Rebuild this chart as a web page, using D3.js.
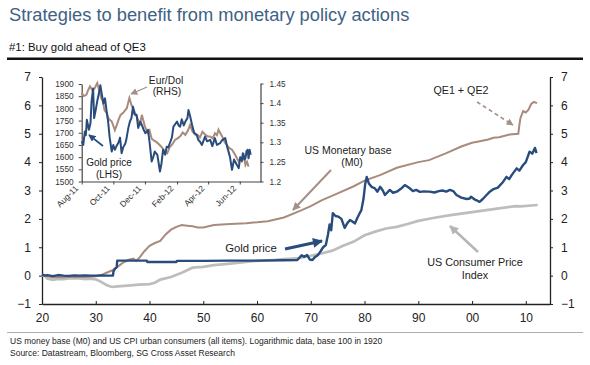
<!DOCTYPE html>
<html><head><meta charset="utf-8">
<script src="https://cdn.jsdelivr.net/npm/d3@7"></script>
<style>
body{margin:0;background:#fff;}
svg{display:block;font-family:Arial,"Liberation Sans",Helvetica,sans-serif;}
</style>
</head><body>
<svg id="c" width="590" height="365"></svg>
<script>
// ---------- DATA ----------
// Main chart: natural log, base 1920 = 0
const goldYears = [1920,1920.5,1921,1922,1923,1924,1925,1926,1927,1928,1929,1930,1931,1932,1933.2,1933.3,1933.6,1933.9,1934.0,1939.5,1939.6,1945,1945.1,1950,1955,1960,1965,1967.5,1968.3,1968.8,1969.3,1969.8,1970.3,1970.8,1971.3,1971.8,1972.3,1972.8,1973.2,1973.5,1973.8,1974.1,1974.6,1975.1,1975.7,1976.3,1976.8,1977.3,1977.8,1978.2,1978.7,1979.1,1979.4,1979.8,1980.1,1980.4,1980.8,1981.3,1981.9,1982.4,1982.9,1983.4,1983.8,1984.7,1985.3,1986,1986.7,1987.5,1988.4,1989,1989.6,1990.3,1991,1992.1,1993,1993.8,1994.5,1995.2,1995.9,1996.5,1997.1,1998,1999,1999.6,1999.8,2000.5,2001,2001.4,2002,2002.7,2003.3,2004,2004.8,2005.8,2006.4,2006.9,2007.4,2008.3,2008.8,2009.5,2010,2010.7,2011.2,2011.7,2012.0];
const goldVals  = [0.05,0.0,0.02,-0.02,0.02,0.0,-0.01,0.01,0.0,0.01,0.0,0.0,0.01,0.0,0.0,0.15,0.25,0.3,0.53,0.53,0.48,0.48,0.52,0.52,0.53,0.53,0.54,0.55,0.72,0.66,0.73,0.57,0.55,0.66,0.72,0.85,1.0,1.08,1.45,1.8,1.6,2.2,2.1,2.08,2.0,1.68,1.85,1.96,1.9,1.84,2.05,2.2,2.3,2.7,3.2,3.48,3.25,3.13,3.08,2.96,3.13,3.0,2.84,3.02,2.92,2.96,3.05,3.19,3.08,2.98,3.02,2.95,2.97,2.96,2.93,2.98,3.0,2.96,3.02,2.98,2.84,2.75,2.7,2.72,2.78,2.68,2.64,2.6,2.7,2.84,2.96,3.05,3.1,3.31,3.48,3.4,3.55,3.78,3.7,3.9,4.0,4.37,4.3,4.5,4.32];

const m0Years = [1920,1921,1922,1923,1924,1925,1926,1927,1928,1929,1930,1931,1932,1933,1934,1935,1936,1937,1937.5,1938,1939,1940,1941,1942,1943,1944,1945,1946,1947,1948,1949,1950,1952,1955,1958,1960,1962,1965,1968,1970,1972,1975,1978,1980,1983,1986,1990,1992,1995,1998,2000,2001,2003,2004,2005,2007,2008.6,2008.8,2009.0,2009.5,2010,2010.5,2011,2011.5,2012.1];
const m0Vals  = [0.02,-0.02,-0.06,-0.05,-0.06,-0.04,-0.05,-0.04,-0.05,-0.04,-0.02,0.02,0.1,0.18,0.3,0.45,0.55,0.6,0.52,0.6,0.85,1.05,1.15,1.22,1.45,1.62,1.72,1.78,1.76,1.74,1.7,1.7,1.78,1.82,1.85,1.88,1.92,2.05,2.28,2.45,2.65,2.9,3.15,3.35,3.55,3.8,4.0,4.07,4.3,4.55,4.68,4.72,4.8,4.86,4.88,4.97,5.0,5.3,5.55,5.8,5.75,5.85,6.05,6.12,6.08];

const cpiYears = [1920,1920.5,1921,1922,1923,1924,1925,1926,1927,1928,1929,1930,1931,1932,1933,1934,1936,1938,1940,1941,1942,1944,1946,1948,1950,1952,1955,1958,1960,1963,1965,1968,1970,1972,1974,1976,1978,1980,1982,1984,1986,1988,1990,1993,1996,1999,2002,2005,2008,2009,2012.2];
const cpiVals  = [0.02,0.0,-0.1,-0.15,-0.12,-0.12,-0.1,-0.09,-0.1,-0.12,-0.11,-0.13,-0.22,-0.33,-0.4,-0.38,-0.35,-0.32,-0.3,-0.25,-0.14,-0.05,0.1,0.28,0.31,0.37,0.42,0.48,0.52,0.55,0.58,0.62,0.7,0.78,0.88,1.05,1.2,1.42,1.55,1.66,1.72,1.82,1.93,2.04,2.13,2.21,2.29,2.37,2.45,2.44,2.49];

const xTicks = [1920,1930,1940,1950,1960,1970,1980,1990,2000,2010];
const yTicks = [-1,0,1,2,3,4,5,6,7];

// Inset: gold price (LHS, USD/oz) and EUR/USD (RHS)
const insetGoldDates = ["2011-08-01","2011-08-04","2011-08-07","2011-08-09","2011-08-11","2011-08-15","2011-08-18","2011-08-20","2011-08-23","2011-08-25","2011-08-28","2011-08-31","2011-09-04","2011-09-06","2011-09-08","2011-09-12","2011-09-15","2011-09-18","2011-09-21","2011-09-24","2011-09-28","2011-10-01","2011-10-04","2011-10-07","2011-10-11","2011-10-14","2011-10-17","2011-10-20","2011-10-24","2011-10-26","2011-10-30","2011-11-02","2011-11-05","2011-11-08","2011-11-11","2011-11-15","2011-11-18","2011-11-22","2011-11-25","2011-11-29","2011-12-02","2011-12-07","2011-12-10","2011-12-14","2011-12-17","2011-12-20","2011-12-25","2011-12-30","2012-01-02","2012-01-05","2012-01-09","2012-01-12","2012-01-15","2012-01-18","2012-01-22","2012-01-25","2012-02-01","2012-02-04","2012-02-07","2012-02-10","2012-02-14","2012-02-17","2012-02-21","2012-02-23","2012-02-26","2012-03-01","2012-03-05","2012-03-10","2012-03-13","2012-03-16","2012-03-20","2012-03-26","2012-03-30","2012-04-05","2012-04-09","2012-04-14","2012-04-18","2012-04-24","2012-04-28","2012-05-04","2012-05-08","2012-05-13","2012-05-17","2012-05-21","2012-05-26","2012-05-30","2012-06-02","2012-06-05","2012-06-07","2012-06-10","2012-06-12","2012-06-14","2012-06-16","2012-06-18","2012-06-20","2012-06-22"];
const insetGoldVals = [1665,1650,1705,1690,1753,1712,1740,1828,1882,1760,1793,1830,1870,1895,1868,1820,1841,1790,1746,1680,1623,1650,1630,1645,1660,1680,1616,1640,1655,1671,1720,1746,1760,1807,1775,1773,1720,1745,1732,1710,1698,1712,1660,1582,1600,1623,1609,1541,1575,1630,1610,1643,1640,1657,1680,1725,1746,1730,1725,1755,1730,1746,1760,1793,1770,1732,1700,1691,1670,1664,1650,1684,1665,1671,1645,1678,1650,1657,1670,1678,1640,1602,1548,1590,1570,1555,1600,1585,1616,1590,1596,1625,1630,1595,1630,1610];

const insetEurDates = ["2011-08-01","2011-08-05","2011-08-10","2011-08-13","2011-08-17","2011-08-22","2011-08-26","2011-08-31","2011-09-05","2011-09-08","2011-09-11","2011-09-14","2011-09-18","2011-09-22","2011-09-28","2011-10-04","2011-10-08","2011-10-11","2011-10-15","2011-10-20","2011-10-24","2011-10-27","2011-11-01","2011-11-05","2011-11-08","2011-11-12","2011-11-18","2011-11-22","2011-11-25","2011-12-01","2011-12-07","2011-12-10","2011-12-14","2011-12-18","2011-12-23","2011-12-28","2012-01-02","2012-01-09","2012-01-13","2012-01-18","2012-01-23","2012-01-28","2012-02-02","2012-02-07","2012-02-12","2012-02-17","2012-02-22","2012-02-26","2012-03-02","2012-03-07","2012-03-12","2012-03-16","2012-03-21","2012-03-26","2012-03-31","2012-04-05","2012-04-10","2012-04-14","2012-04-18","2012-04-21","2012-04-25","2012-04-28","2012-05-03","2012-05-07","2012-05-12","2012-05-17","2012-05-23","2012-05-30","2012-06-02","2012-06-05","2012-06-09","2012-06-12","2012-06-15","2012-06-18"];
const insetEurVals = [1.426,1.418,1.421,1.432,1.443,1.432,1.438,1.451,1.426,1.412,1.404,1.382,1.375,1.36,1.353,1.331,1.345,1.357,1.37,1.375,1.382,1.387,1.413,1.395,1.387,1.375,1.357,1.348,1.370,1.340,1.323,1.33,1.309,1.305,1.301,1.295,1.288,1.276,1.272,1.288,1.295,1.306,1.31,1.315,1.325,1.319,1.33,1.344,1.327,1.32,1.319,1.312,1.327,1.32,1.315,1.315,1.31,1.323,1.318,1.332,1.322,1.315,1.3,1.293,1.285,1.281,1.268,1.251,1.259,1.252,1.265,1.242,1.25,1.238];

const insetMonthTicks = ["2011-08-01","2011-10-01","2011-12-01","2012-02-01","2012-04-01","2012-06-01"];
const insetMonthLabels = ["Aug-11","Oct-11","Dec-11","Feb-12","Apr-12","Jun-12"];
const insetGoldTicks = [1500,1550,1600,1650,1700,1750,1800,1850,1900];
const insetEurTicks = [1.2,1.25,1.3,1.35,1.4,1.45];

// ---------- STYLE ----------
const BLUE = "#284c7c", BROWN = "#a88b7d", GREY = "#bdbdbd";
const FONT = "Arial,Liberation Sans,sans-serif";
const svg = d3.select("#c");

const defs = svg.append("defs");
function marker(id, color, w, h) {
  defs.append("marker").attr("id", id).attr("viewBox", "0 0 10 10")
    .attr("refX", 9).attr("refY", 5).attr("markerWidth", w).attr("markerHeight", h)
    .attr("markerUnits", "userSpaceOnUse").attr("orient", "auto")
    .append("path").attr("d", "M0,0 L10,5 L0,10 z").attr("fill", color);
}
marker("mBrown", "#a39086", 9, 8);
marker("mBlue", BLUE, 11, 10);
marker("mGrey", "#b5b5b5", 10, 9);
marker("mBlueS", BLUE, 7, 7);
marker("mBrownS", "#a39086", 7, 7);

// ---------- HEADER ----------
svg.append("text").attr("x", 9).attr("y", 20.5).attr("font-size", 18.3).attr("fill", "#3e6283")
  .text("Strategies to benefit from monetary policy actions");
svg.append("text").attr("x", 9).attr("y", 51).attr("font-size", 11.4).attr("fill", "#111")
  .text("#1: Buy gold ahead of QE3");
svg.append("line").attr("x1", 7).attr("x2", 583).attr("y1", 58.7).attr("y2", 58.7)
  .attr("stroke", "#111").attr("stroke-width", 2.4);

// ---------- MAIN CHART ----------
const x = d3.scaleLinear().domain([1920, 2014.5]).range([42, 550]);
const y = d3.scaleLinear().domain([-1, 7]).range([304, 77]);

const axL = svg.append("g").attr("transform", "translate(42,0)")
  .call(d3.axisLeft(y).tickValues(yTicks).tickSizeInner(3).tickSizeOuter(0).tickPadding(8).tickFormat(d3.format("d")));
const axR = svg.append("g").attr("transform", "translate(550,0)")
  .call(d3.axisRight(y).tickValues(yTicks).tickSizeInner(3).tickSizeOuter(0).tickPadding(8).tickFormat(d3.format("d")));
const axB = svg.append("g").attr("transform", "translate(0,304)")
  .call(d3.axisBottom(x).tickValues(xTicks).tickSizeInner(-3).tickSizeOuter(0).tickPadding(9)
    .tickFormat(d => String(d % 100).padStart(2, "0")));
[axL, axR, axB].forEach(g => {
  g.selectAll("path").attr("stroke", "#222").attr("stroke-width", 1.3);
  g.selectAll("line").attr("stroke", "#222");
  g.selectAll("text").attr("font-size", 12).attr("fill", "#222").attr("font-family", FONT);
});

const line = d3.line().x(d => x(d[0])).y(d => y(d[1]));
svg.append("path").datum(cpiYears.map((d, i) => [d, cpiVals[i]])).attr("d", line)
  .attr("fill", "none").attr("stroke", GREY).attr("stroke-width", 2.7);
svg.append("path").datum(m0Years.map((d, i) => [d, m0Vals[i]])).attr("d", line)
  .attr("fill", "none").attr("stroke", BROWN).attr("stroke-width", 2);
svg.append("path").datum(goldYears.map((d, i) => [d, goldVals[i]])).attr("d", line)
  .attr("fill", "none").attr("stroke", BLUE).attr("stroke-width", 2.4).attr("stroke-linejoin", "round");

const ann = (t, cx, by, fs) => svg.append("text").attr("x", cx).attr("y", by).attr("text-anchor", "middle")
  .attr("font-size", fs).attr("fill", "#222").text(t);
ann("US Monetary base", 348, 154, 10.5);
ann("(M0)", 352, 166, 10.5);
ann("QE1 + QE2", 461, 94, 10.7);
ann("Gold price", 251, 252, 11.3);
ann("US Consumer Price", 475, 266, 10.8);
ann("Index", 475, 279, 10.8);

svg.append("line").attr("x1", 331).attr("y1", 170).attr("x2", 293).attr("y2", 210)
  .attr("stroke", "#a39086").attr("stroke-width", 2).attr("marker-end", "url(#mBrown)");
svg.append("line").attr("x1", 477).attr("y1", 102).attr("x2", 513).attr("y2", 125)
  .attr("stroke", "#a39086").attr("stroke-width", 1.6).attr("stroke-dasharray", "4,3").attr("marker-end", "url(#mBrownS)");
svg.append("line").attr("x1", 285).attr("y1", 249).attr("x2", 322).attr("y2", 241)
  .attr("stroke", BLUE).attr("stroke-width", 3).attr("marker-end", "url(#mBlue)");
svg.append("line").attr("x1", 478).attr("y1", 252).attr("x2", 450).attr("y2", 226)
  .attr("stroke", "#b5b5b5").attr("stroke-width", 2.5).attr("marker-end", "url(#mGrey)");

// ---------- INSET ----------
const parse = d3.timeParse("%Y-%m-%d");
const ix = d3.scaleTime().domain([parse("2011-08-01"), parse("2012-07-11")]).range([81.7, 260.5]);
const iyL = d3.scaleLinear().domain([1500, 1900]).range([181.5, 84]);
const iyR = d3.scaleLinear().domain([1.2, 1.45]).range([181.5, 83.5]);

const iL = svg.append("g").attr("transform", "translate(81.7,0)")
  .call(d3.axisLeft(iyL).tickValues(insetGoldTicks).tickSizeInner(3).tickSizeOuter(0).tickPadding(5).tickFormat(d3.format("d")));
const iR = svg.append("g").attr("transform", "translate(260.5,0)")
  .call(d3.axisRight(iyR).tickValues(insetEurTicks).tickSizeInner(3).tickSizeOuter(0).tickPadding(6)
    .tickFormat(d => String(+d.toFixed(2))));
const iB = svg.append("g").attr("transform", "translate(0,181.5)")
  .call(d3.axisBottom(ix).tickValues(insetMonthTicks.map(parse)).tickSizeInner(3).tickSizeOuter(0).tickFormat(""));
[iL, iR, iB].forEach(g => {
  g.selectAll("path").attr("stroke", "#444").attr("stroke-width", 1.2);
  g.selectAll("line").attr("stroke", "#444");
  g.selectAll("text").attr("font-size", 8.3).attr("fill", "#333").attr("font-family", FONT);
});
insetMonthTicks.forEach((d, i) => {
  const tx = ix(parse(d)) - 3, ty = 189;
  svg.append("text").attr("transform", `translate(${tx},${ty}) rotate(-45)`).attr("text-anchor", "end")
    .attr("font-size", 8.4).attr("fill", "#333").text(insetMonthLabels[i]);
});

svg.append("path").datum(insetEurDates.map((d, i) => [parse(d), insetEurVals[i]]))
  .attr("d", d3.line().x(d => ix(d[0])).y(d => iyR(d[1])))
  .attr("fill", "none").attr("stroke", BROWN).attr("stroke-width", 2);
svg.append("path").datum(insetGoldDates.map((d, i) => [parse(d), insetGoldVals[i]]))
  .attr("d", d3.line().x(d => ix(d[0])).y(d => iyL(d[1])))
  .attr("fill", "none").attr("stroke", BLUE).attr("stroke-width", 2).attr("stroke-linejoin", "round");

ann("Eur/Dol", 166, 84, 10.3);
ann("(RHS)", 167, 95, 10.3);
ann("Gold price", 109, 166, 10);
ann("(LHS)", 109, 177.5, 10);
svg.append("line").attr("x1", 147).attr("y1", 87).attr("x2", 131).attr("y2", 94)
  .attr("stroke", "#a39086").attr("stroke-width", 1.3).attr("marker-end", "url(#mBrownS)");
svg.append("line").attr("x1", 103).attr("y1", 146).attr("x2", 89).attr("y2", 135)
  .attr("stroke", BLUE).attr("stroke-width", 1.6).attr("marker-end", "url(#mBlueS)");

// ---------- FOOTER ----------
svg.append("line").attr("x1", 7).attr("x2", 583).attr("y1", 332.5).attr("y2", 332.5)
  .attr("stroke", "#999").attr("stroke-width", 0.8);
svg.append("text").attr("x", 10).attr("y", 344).attr("font-size", 8.5).attr("fill", "#222")
  .text("US money base (M0) and US CPI urban consumers (all items). Logarithmic data, base 100 in 1920");
svg.append("text").attr("x", 10).attr("y", 356).attr("font-size", 8.5).attr("fill", "#222")
  .text("Source: Datastream, Bloomberg, SG Cross Asset Research");
</script>
</body></html>
